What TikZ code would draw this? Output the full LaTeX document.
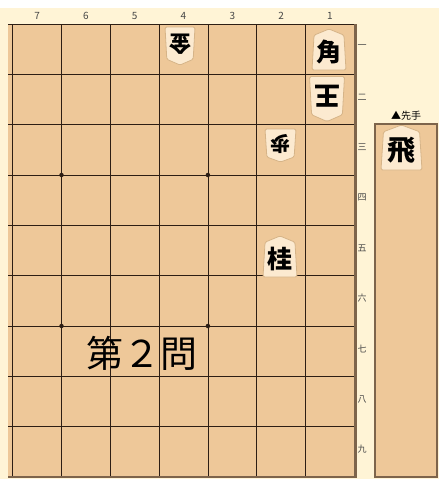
\documentclass[tikz,border=0pt]{standalone}
\usepackage{fontspec}
\newfontfamily\jpfont{Noto Sans CJK JP}
\usetikzlibrary{calc}
\definecolor{bgbeige}{RGB}{255,244,214}
\definecolor{wood}{RGB}{238,200,153}
\definecolor{gridline}{RGB}{45,30,20}
\definecolor{edgeshade}{RGB}{125,100,75}
\definecolor{komafill}{RGB}{252,234,208}
\definecolor{komaedge}{RGB}{214,180,136}
\definecolor{labelgray}{RGB}{70,70,70}
\tikzstyle{grid line}=[draw=gridline, line width=0.8pt]
\tikzstyle{hoshi}=[circle, fill=gridline, inner sep=0pt, minimum size=4.5pt]
\tikzstyle{colnum}=[font=\jpfont\fontsize{10}{10}\selectfont, text=labelgray, inner sep=0pt]
\tikzstyle{rownum}=[font=\jpfont\fontsize{9}{9}\selectfont, text=labelgray, inner sep=0pt]
\tikzstyle{koma body}=[fill=komafill, draw=komaedge, line width=0.8pt, rounded corners=1.5pt]
\tikzstyle{koma char}=[text=black, inner sep=0pt]
\tikzstyle{title}=[font=\jpfont\fontsize{37}{37}\selectfont, text=black, inner sep=0pt]
% [rot]{name}{x}{y}{w}{h}{size}{char}
\newcommand{\koma}[8][0]{%
  \begin{scope}[shift={(#3,#4)}, rotate=#1]
    \path[koma body] (0,-#6/2) -- (#5*0.44,-#6*0.35) -- (#5/2,#6/2)
      -- (-#5/2,#6/2) -- (-#5*0.44,-#6*0.35) -- cycle;
    \node[koma char, rotate=#1, font=\jpfont\bfseries\fontsize{#7}{#7}\selectfont] (#2) at (0,#6*0.06) {#8};
  \end{scope}}

\begin{document}
\begin{tikzpicture}[x=1pt, y=-1pt]
	\useasboundingbox (0,0) rectangle (439,479);
	% background
	\fill[bgbeige] (0,0) rectangle (439,479);
	\fill[white] (0,0) rectangle (439,8);
	% board
	\fill[wood] (8,24) rectangle (354,477);
	\foreach \i in {0,...,7}
		\draw[grid line] (12.7+\i*48.8,24) -- (12.7+\i*48.8,477);
	\foreach \j in {0,...,9}
		\draw[grid line] (8,24+\j*50.33) -- (354,24+\j*50.33);
	\fill[edgeshade] (354,24) rectangle (357,477);
	\fill[edgeshade] (8,476) rectangle (357,478);
	% star points
	\node[hoshi] (h1) at (61.5,175) {};
	\node[hoshi] (h2) at (207.9,175) {};
	\node[hoshi] (h3) at (61.5,326) {};
	\node[hoshi] (h4) at (207.9,326) {};
	% file and rank labels
	\foreach \c [count=\i from 0] in {7,6,5,4,3,2,1}
		\node[colnum] (c\c) at (12.7+\i*48.8+24.4,16) {\c};
	\foreach \k [count=\j] in {一,二,三,四,五,六,七,八,九}
		\node[rownum] (r\j) at (362,24+\j*50.33-27.5) {\k};
	% piece stand
	\fill[wood] (375,124) rectangle (437,477);
	\draw[edgeshade, line width=1.2pt] (375,124) rectangle (437,477);
	\node[rownum, font=\jpfont\fontsize{10}{10}\selectfont, text=black] (sente) at (406,116) {▲先手};
	% pieces
	\koma[180]{k41}{180}{46}{30}{38}{22}{金}
	\koma{k11}{329}{49.5}{34}{41}{25}{角}
	\koma[180]{k12}{327}{99}{35}{45}{26}{王}
	\koma[180]{k23}{280.5}{145.5}{31}{33}{20}{歩}
	\koma{k25}{280}{256.5}{34}{41}{25}{桂}
	\koma{hand}{401.5}{147.5}{41}{45}{28}{飛}
	% title
	\node[title] (q) at (142,353) {第２問};
\end{tikzpicture}
\end{document}
